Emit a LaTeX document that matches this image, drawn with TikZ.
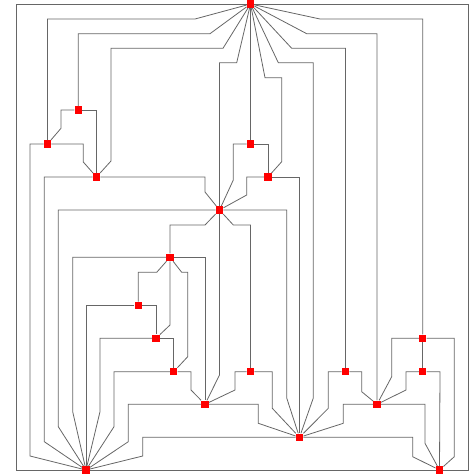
\documentclass[tikz,border=0pt]{standalone}
\usepackage{tikz}

\begin{document}
\begin{tikzpicture}[x=1pt,y=-1pt,
  sq/.style={fill=red, minimum size=7.5pt, inner sep=0pt},
  wire/.style={draw=black!60, line width=0.8pt}]
\useasboundingbox (0,0) rectangle (471,476);

\node[sq] (t) at (250.5,4) {};
\node[sq] (a) at (78.3,110) {};
\node[sq] (b) at (47.5,144) {};
\node[sq] (c) at (96.5,177) {};
\node[sq] (d) at (250.5,144) {};
\node[sq] (e) at (268,177) {};
\node[sq] (f) at (219.5,210) {};
\node[sq] (g) at (170,257.3) {};
\node[sq] (h) at (138.3,305.5) {};
\node[sq] (i) at (156,338.3) {};
\node[sq] (j) at (173.7,371.7) {};
\node[sq] (k) at (205,404.3) {};
\node[sq] (l) at (250.5,371.7) {};
\node[sq] (m) at (345.5,371.7) {};
\node[sq] (n) at (422.7,338.3) {};
\node[sq] (o) at (422.7,371.7) {};
\node[sq] (p) at (377,404.3) {};
\node[sq] (q) at (299.5,437.3) {};
\node[sq] (bl) at (86,470) {};
\node[sq] (br) at (439.5,470) {};

\draw[wire] (t) -- (16,4) -- (16,470) -- (bl);
\draw[wire] (t) -- (468,4) -- (468,470) -- (br);
\draw[wire] (bl) -- (br);

\draw[wire] (t) -- (195,19) -- (47.5,19) -- (b);
\draw[wire] (t) -- (210,33.7) -- (78.3,33.7) -- (a);
\draw[wire] (t) -- (223,48.3) -- (111,48.3) -- (111,161) -- (c);
\draw[wire] (t) -- (236.7,62.7) -- (219.5,62.7) -- (f);
\draw[wire] (t) -- (d);
\draw[wire] (t) -- (265,77.7) -- (281.7,77.7) -- (281.7,161.7) -- (e);
\draw[wire] (t) -- (278.3,62.7) -- (313.3,62.7) -- (313.3,398) -- (q);
\draw[wire] (t) -- (291.7,48.3) -- (345.5,48.3) -- (m);
\draw[wire] (t) -- (306.7,33.7) -- (377,33.7) -- (p);
\draw[wire] (t) -- (320,19) -- (422.7,19) -- (n);

\draw[wire] (a) -- (61,110) -- (61,128.3) -- (b);
\draw[wire] (a) -- (96.5,110) -- (c);
\draw[wire] (b) -- (83.3,144) -- (83.3,162) -- (c);
\draw[wire] (b) -- (30,144) -- (30,456) -- (bl);
\draw[wire] (c) -- (44.3,177) -- (44.3,441.7) -- (bl);
\draw[wire] (c) -- (205,177) -- (205,192) -- (f);
\draw[wire] (d) -- (268,144) -- (e);
\draw[wire] (d) -- (233.3,144) -- (233.3,180) -- (f);
\draw[wire] (e) -- (246.7,177) -- (246.7,195) -- (f);
\draw[wire] (e) -- (299.5,177) -- (q);

\draw[wire] (f) -- (58.3,210) -- (58.3,426.7) -- (bl);
\draw[wire] (f) -- (205,225) -- (170,225) -- (g);
\draw[wire] (f) -- (219.5,375) -- (k);
\draw[wire] (f) -- (233.3,225) -- (250.5,225) -- (l);
\draw[wire] (f) -- (286.7,210) -- (286.7,398) -- (q);

\draw[wire] (g) -- (72.7,257.3) -- (72.7,411.7) -- (bl);
\draw[wire] (g) -- (205,257.3) -- (k);
\draw[wire] (g) -- (156.7,272.3) -- (138.3,272.3) -- (h);
\draw[wire] (g) -- (170,325) -- (i);
\draw[wire] (g) -- (181.7,272.3) -- (187.7,272.3) -- (187.7,356.7) -- (j);

\draw[wire] (h) -- (86,305.5) -- (bl);
\draw[wire] (h) -- (156,305.5) -- (i);
\draw[wire] (i) -- (100,338.3) -- (100,411.7) -- (bl);
\draw[wire] (i) -- (173.7,338.3) -- (j);
\draw[wire] (j) -- (114,371.7) -- (114,426.7) -- (bl);
\draw[wire] (j) -- (191,371.7) -- (191,390) -- (k);

\draw[wire] (k) -- (128.3,404.3) -- (128.3,441.7) -- (bl);
\draw[wire] (k) -- (235,390) -- (235,371.7) -- (l);
\draw[wire] (k) -- (258.3,404.3) -- (258.3,423.3) -- (q);
\draw[wire] (l) -- (272.3,371.7) -- (272.3,408.3) -- (q);
\draw[wire] (m) -- (328.3,371.7) -- (328.3,408.3) -- (q);
\draw[wire] (m) -- (361.7,371.7) -- (361.7,391.7) -- (p);
\draw[wire] (p) -- (343.3,404.3) -- (343.3,423.3) -- (q);
\draw[wire] (p) -- (425,404.3) -- (425,443.3) -- (br);

\draw[wire] (n) -- (391.7,338.3) -- (391.7,376.7) -- (p);
\draw[wire] (n) -- (o);
\draw[wire] (n) -- (454.3,338.3) -- (454.3,456.7) -- (br);
\draw[wire] (o) -- (406,371.7) -- (406,390) -- (p);
\draw[wire] (o) -- (440,371.7) -- (br);

\draw[wire] (q) -- (142.7,437.3) -- (142.7,456) -- (bl);
\draw[wire] (q) -- (412.7,437.3) -- (412.7,456.7) -- (br);
\end{tikzpicture}
\end{document}
